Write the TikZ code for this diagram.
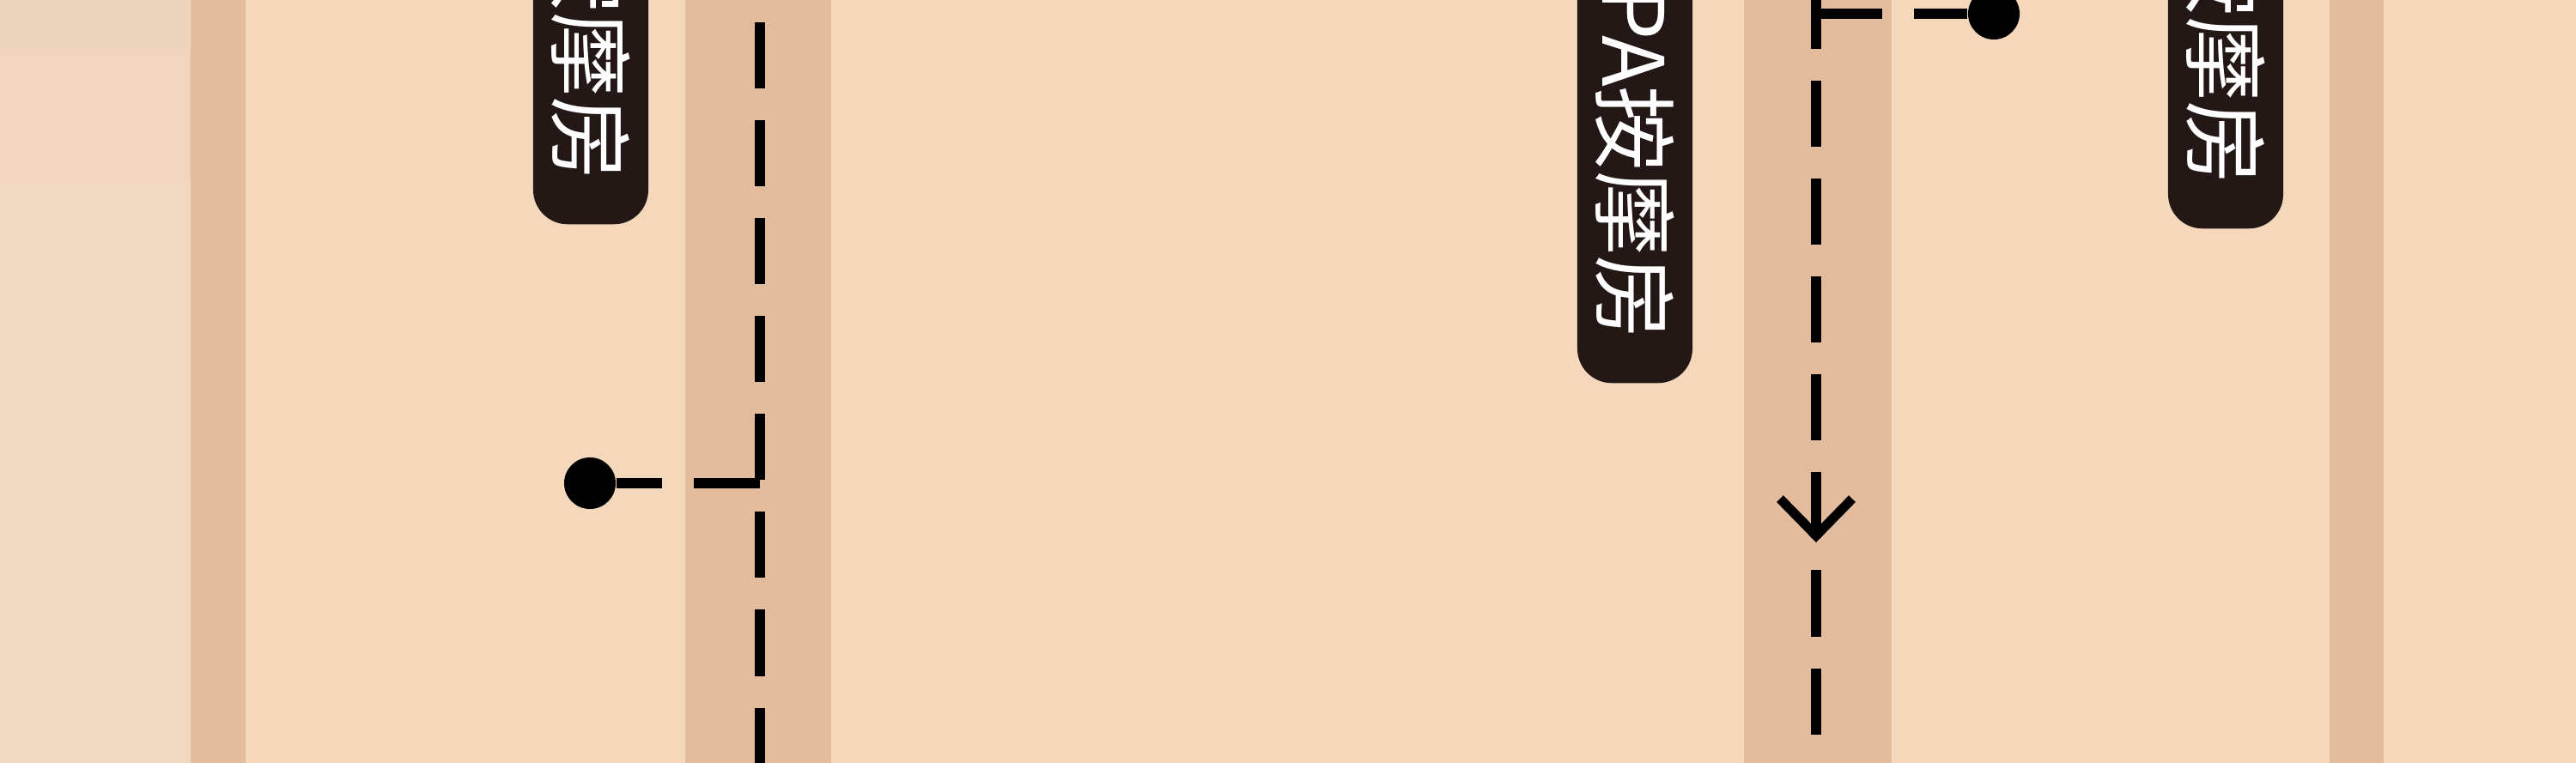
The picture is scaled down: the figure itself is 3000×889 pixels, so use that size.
\documentclass[tikz,border=0pt]{standalone}
\usepackage{fontspec}
\newfontfamily\cjk{Noto Sans CJK SC}
\usetikzlibrary{arrows.meta}

\definecolor{peach}{HTML}{F5D8BB}
\definecolor{band}{HTML}{E3BC9E}
\definecolor{paleleft}{HTML}{F1D8C0}
\definecolor{palepink}{HTML}{F2D5BF}
\definecolor{paletop}{HTML}{EDD4BC}
\definecolor{tagdark}{HTML}{231816}

\begin{document}
\begin{tikzpicture}[x = 0.01cm, y = -0.01cm,
    roomtag/.style = {fill = tagdark, text = white, rounded corners = 0.4cm,
        rotate = -90, anchor = east, minimum height = 1.34cm, inner xsep = 0.5cm,
        font = \cjk\fontsize{28}{28}\selectfont},
    flow/.style = {line width = 0.115cm, dash pattern = on 0.77cm off 0.37cm},
    pin/.style = {circle, fill = black, minimum size = 0.6cm, inner sep = 0pt}]

    \useasboundingbox (0,0) rectangle (3000,889);
    \clip (0,0) rectangle (3000,889);

    % floor and walls
    \fill[peach] (0,0) rectangle (3000,889);
    \fill[paleleft] (0,0) rectangle (222,889);
    \fill[palepink] (0,57) rectangle (222,215);
    \fill[paletop] (0,0) rectangle (222,57);
    \foreach \xa/\xb in {222/286, 798/968, 2031/2203, 2713/2776}
        \fill[band] (\xa,0) rectangle (\xb,889);

    % room labels
    \node[roomtag] (tagL) at (688,262) {SPA按摩房};
    \node[roomtag] (tagM) at (1904,447) {SPA按摩房};
    \node[roomtag] (tagR) at (2592,267) {SPA按摩房};

    % walking routes
    \node[pin] (dotL) at (687,563) {};
    \node[pin] (dotR) at (2322,16) {};
    \coordinate (topL) at (885,-88);
    \coordinate (botL) at (885,960);
    \coordinate (jL) at (885,563);
    \coordinate (topR) at (2115,-134);
    \coordinate (botR) at (2115,960);
    \coordinate (jR) at (2115,16);
    \coordinate (tailR) at (2115,560);
    \coordinate (tipR) at (2115,632);

    \draw[flow] (topL) -- (botL);
    \draw[flow] (jL) -- (dotL);
    \draw[flow] (topR) -- (botR);
    \draw[flow] (jR) -- (dotR);
    \draw[line width = 0.11cm, -{Straight Barb[length = 0.43cm, width = 0.84cm]}] (tailR) -- (tipR);
\end{tikzpicture}
\end{document}
